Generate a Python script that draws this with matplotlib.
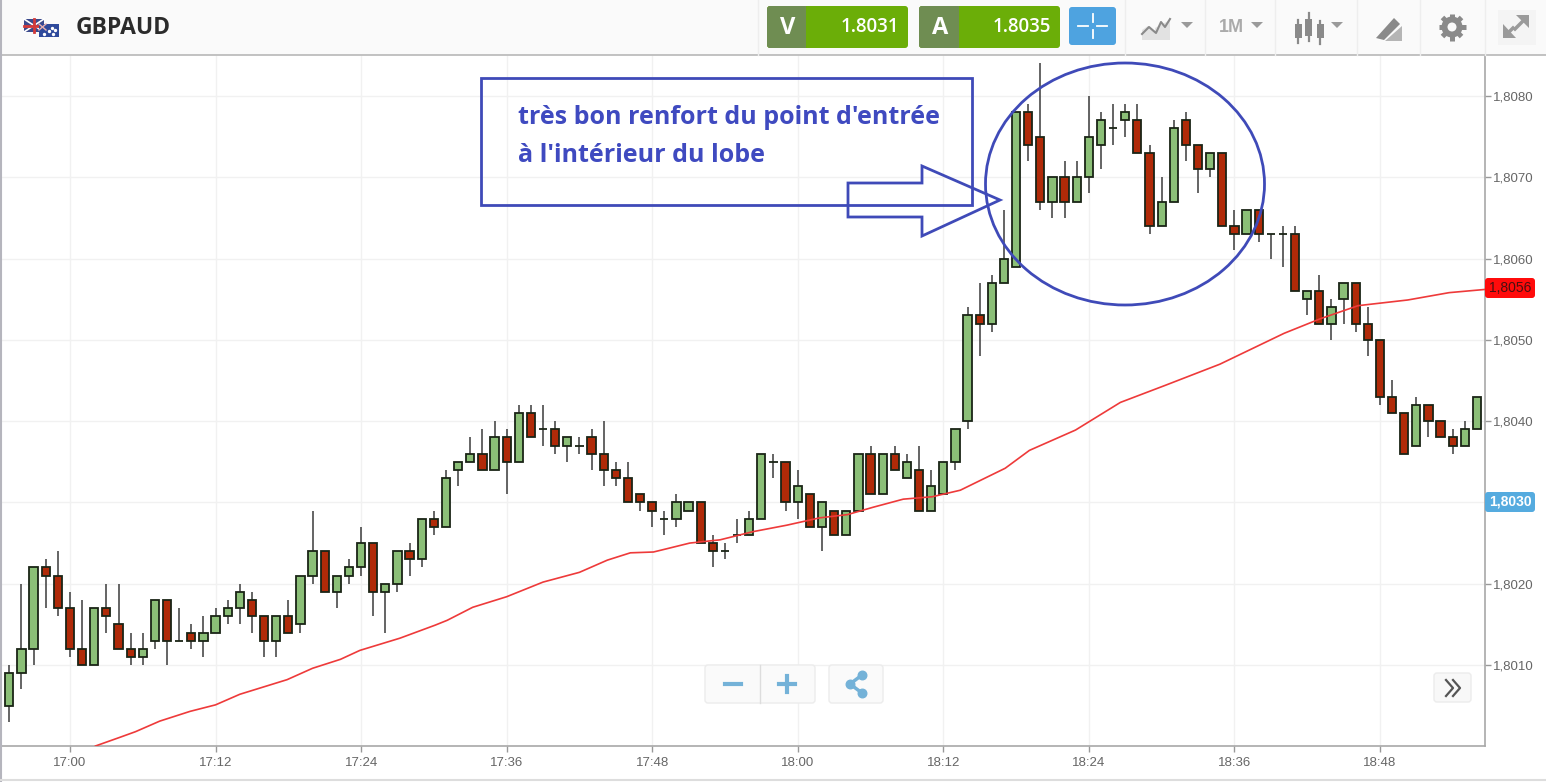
import matplotlib
matplotlib.use("Agg")
import numpy as np
import matplotlib.pyplot as plt
from matplotlib.patches import Rectangle, FancyBboxPatch, Ellipse, Polygon, Circle

# prices are pips above 1.8000
opens = [5, 9, 12, 22, 21, 17, 12, 10, 17, 15, 12, 11, 13, 18, 13, 14, 13, 14, 16, 17,
         18, 16, 13, 16, 15, 21, 24, 19, 21, 22, 25, 19, 20, 24, 23, 28, 27, 34, 35, 36,
         34, 38, 35, 41, 39, 39, 37, 37, 38, 36, 34, 33, 31, 30, 28, 28, 29, 30, 25, 24,
         26, 26, 28, 35, 35, 30, 31, 27, 29, 26, 29, 36, 31, 36, 33, 34, 29, 31, 35, 40,
         53, 52, 57, 59, 78, 75, 67, 70, 67, 70, 74, 76, 77, 77, 73, 64, 67, 77, 74, 71,
         73, 64, 63, 66, 63, 63, 63, 55, 56, 52, 55, 57, 52, 50, 43, 41, 37, 42, 40, 38,
         37, 39]
closes = [9, 12, 22, 21, 17, 12, 10, 17, 16, 12, 11, 12, 18, 13, 13, 13, 14, 16, 17, 19,
          16, 13, 16, 14, 21, 24, 19, 21, 22, 25, 19, 20, 24, 23, 28, 27, 33, 35, 36, 34,
          38, 35, 41, 38, 39, 37, 38, 37, 36, 34, 33, 30, 30, 29, 28, 30, 30, 25, 24, 24,
          26, 28, 36, 35, 30, 32, 27, 30, 26, 29, 36, 31, 36, 34, 35, 29, 32, 35, 39, 53,
          52, 57, 60, 78, 74, 67, 70, 67, 70, 75, 77, 76, 78, 73, 64, 67, 76, 74, 71, 73,
          64, 63, 66, 63, 63, 63, 56, 56, 52, 54, 57, 52, 50, 43, 41, 36, 42, 40, 38, 37,
          39, 43]
highs = [10, 20, 22, 23, 24, 19, 18, 17, 20, 20, 14, 14, 18, 18, 17, 15, 16, 17, 18, 20,
         19, 16, 16, 18, 21, 29, 24, 21, 23, 27, 25, 20, 24, 25, 28, 29, 34, 35, 38, 39,
         40, 39, 42, 42, 42, 40, 38, 38, 39, 40, 35, 35, 31, 30, 29, 31, 30, 30, 26, 25,
         28, 29, 36, 36, 35, 34, 31, 30, 29, 29, 36, 37, 36, 37, 36, 37, 34, 35, 39, 54,
         57, 58, 66, 78, 79, 84, 70, 72, 72, 80, 78, 79, 79, 79, 74, 70, 77, 78, 74, 73,
         73, 66, 66, 66, 63, 64, 64, 56, 58, 55, 57, 57, 54, 50, 45, 41, 43, 42, 40, 39,
         40, 43]
lows = [3, 7, 10, 17, 16, 11, 10, 10, 14, 12, 10, 10, 12, 10, 13, 12, 11, 14, 15, 15,
        14, 11, 11, 14, 14, 20, 19, 17, 20, 21, 16, 14, 19, 21, 22, 26, 27, 32, 35, 34,
        34, 31, 35, 38, 37, 36, 35, 36, 34, 32, 32, 30, 29, 27, 26, 27, 29, 25, 22, 23,
        25, 26, 28, 33, 29, 28, 27, 24, 26, 26, 29, 31, 31, 34, 33, 29, 29, 31, 34, 39,
        48, 51, 57, 59, 72, 66, 65, 65, 67, 68, 71, 74, 75, 73, 63, 64, 67, 72, 68, 70,
        64, 61, 63, 62, 60, 59, 56, 53, 52, 50, 52, 51, 48, 42, 41, 36, 37, 38, 38, 36,
        37, 39]
first_minute = -5  # 16:55

ma_minutes = [2.1, 4.1, 5.4, 7.4, 9.9, 12, 14, 17.9, 20, 22.3, 23.9, 27.2, 30.1, 31.1,
              33.2, 36, 39, 42, 44.3, 46.2, 48.1, 49.2, 51.1, 53.6, 56.3, 59.1, 61.8,
              64.1, 66.2, 68.7, 71.1, 73.4, 77.1, 79.1, 82.9, 86.6, 90.3, 94.8, 100.1,
              103.1, 106.2, 110.3, 113.7, 116.7]
ma_values = [0.04, 1.1, 1.8, 3.1, 4.3, 5.1, 6.4, 8.2, 9.6, 10.7, 11.8, 13.3, 14.9, 15.5,
             17.1, 18.4, 20.2, 21.4, 22.9, 23.8, 23.9, 24.3, 25, 25.4, 26.4, 27.2, 28.1,
             28.5, 29.4, 30.4, 30.7, 31.5, 34.2, 36.4, 38.9, 42.3, 44.4, 47, 50.8,
             52.6, 54.2, 54.9, 55.8, 56.2]

time_ticks = [0, 12, 24, 36, 48, 60, 72, 84, 96, 108]
time_labels = ["17:00", "17:12", "17:24", "17:36", "17:48", "18:00", "18:12", "18:24", "18:36", "18:48"]
price_ticks = [10, 20, 30, 40, 50, 60, 70, 80]
# 1,8030 sits under the blue price tag
price_labels = ["1,8010", "1,8020", "", "1,8040", "1,8050", "1,8060", "1,8070", "1,8080"]

W, H = 1546, 782
plt.rcParams["font.family"] = ["Liberation Sans", "DejaVu Sans"]
fig = plt.figure(figsize=(W / 100, H / 100), dpi=100, facecolor="white")

# -----------------------------
# Candles
# -----------------------------
ax = fig.add_axes([0, 1 - 746 / H, 1485 / W, (746 - 55) / H])
opens_a, closes_a = np.array(opens), np.array(closes)
highs_a, lows_a = np.array(highs), np.array(lows)
minutes = first_minute + np.arange(len(opens))
colors = ["#8bbf77" if c > o else "#b02a08" for o, c in zip(opens_a, closes_a)]

ax.vlines(minutes, lows_a, highs_a, color="#4a4a4a", linewidth=1.2, zorder=2)
ax.bar(minutes, np.abs(closes_a - opens_a), bottom=np.minimum(opens_a, closes_a), width=0.68,
       color=colors, edgecolor="#1a2416", linewidth=1.3, zorder=3)
ax.plot(ma_minutes, ma_values, color="#ee3a3a", linewidth=1.2, zorder=4)

ax.set_xlim(-5.77, 116.66)
ax.set_ylim(0.04, 85.03)
ax.yaxis.tick_right()
ax.set_xticks(time_ticks, time_labels)
ax.set_yticks(price_ticks, price_labels)
ax.tick_params(axis="both", length=4, width=1, color="#999999", labelcolor="#666666", labelsize=9.5)
ax.tick_params(axis="x", pad=4)
ax.tick_params(axis="y", pad=1.5)
ax.grid(True, color="#f1f1f1", linewidth=1)
ax.set_axisbelow(True)
for side in ["top", "left"]:
    ax.spines[side].set_visible(False)
for side in ["right", "bottom"]:
    ax.spines[side].set_color("#a8a8a8")
    ax.spines[side].set_linewidth(1.2)

# -----------------------------
# Platform toolbar and annotations (overlay in pixels)
# -----------------------------
ui = fig.add_axes([0, 0, 1, 1], facecolor="none")
ui.set_xlim(0, W)
ui.set_ylim(H, 0)
ui.axis("off")


def box(x0, y0, x1, y1, color, edge="none", r=3, z=5):
    ui.add_patch(FancyBboxPatch((x0 + r, y0 + r), x1 - x0 - 2 * r, y1 - y0 - 2 * r,
                                boxstyle=f"round,pad={r}", facecolor=color, edgecolor=edge,
                                linewidth=1, zorder=z))


ui.add_patch(Rectangle((0, 0), W, 55, facecolor="#fafafa", edgecolor="none", zorder=1))
ui.plot([0, W], [55, 55], color="#bdbdbd", linewidth=1.3, zorder=2)
ui.plot([1, 1], [0, 782], color="#b5b5bd", linewidth=1.5, zorder=2)
ui.plot([0, W], [780, 780], color="#dddddd", linewidth=1.5, zorder=2)
for sep in [758, 1125, 1205, 1275, 1357, 1420, 1485]:
    ui.plot([sep, sep], [0, 55], color="#eeeeee", linewidth=1, zorder=2)

# flags
ui.add_patch(Rectangle((24, 19), 20, 13, facecolor="#3b4a8c", zorder=3))
ui.plot([24, 44], [19, 32], color="white", linewidth=1.2, zorder=3)
ui.plot([24, 44], [32, 19], color="white", linewidth=1.2, zorder=3)
ui.plot([24, 44], [25.5, 25.5], color="#d23a3a", linewidth=2, zorder=3)
ui.plot([34, 34], [19, 32], color="#d23a3a", linewidth=2, zorder=3)
ui.add_patch(Rectangle((39, 24), 20, 13, facecolor="#2f4a9c", zorder=4))
ui.scatter([52, 55, 49, 53, 44], [28, 30, 31, 34, 34], s=2, color="white", zorder=5)
ui.plot([39, 46], [24, 30], color="#e8b0b0", linewidth=1, zorder=5)
ui.plot([39, 46], [30, 24], color="#e8b0b0", linewidth=1, zorder=5)
ui.text(76, 27.5, "GBPAUD", family="Open Sans", fontweight="bold", fontsize=16.5,
        color="#2b2b2b", va="center", zorder=5)

# bid / ask
for x0, x1, x2, letter, price in [(767, 806, 908, "V", "1.8031"), (919, 959, 1060, "A", "1.8035")]:
    box(x0, 6, x2, 48, "#6bae08")
    box(x0, 6, x1, 48, "#6f8d52", z=6)
    ui.add_patch(Rectangle((x1 - 4, 6), 4, 42, facecolor="#6f8d52", zorder=6))
    ui.text((x0 + x1) / 2 + 1, 27.5, letter, family="Open Sans", fontweight="bold", fontsize=17,
            color="white", ha="center", va="center", zorder=7)
    ui.text(x2 - 9, 27, price, family="Open Sans", fontsize=13.5, fontweight="semibold",
            color="white", ha="right", va="center", zorder=7)

# crosshair button
box(1069, 7, 1116, 45, "#4ea3e0")
for xs, ys in [([1078, 1088], [26, 26]), ([1097, 1107], [26, 26]),
               ([1092.5, 1092.5], [14, 22]), ([1092.5, 1092.5], [30, 38])]:
    ui.plot(xs, ys, color="white", linewidth=1.3, zorder=7)

grey = "#9a9a9a"
# chart type icon
ui.add_patch(Polygon([(1142, 40), (1142, 30), (1148, 26), (1155, 31), (1155, 28), (1170, 20), (1170, 40)],
                     facecolor="#e2e2e2", edgecolor="none", zorder=5))
ui.plot([1142, 1149, 1156, 1161, 1165, 1170], [34, 27, 33, 22, 27, 19], color="#8a8a8a", linewidth=1.5, zorder=6)
ui.text(1219, 27, "1M", fontsize=13, fontweight="bold", color="#aaaaaa", va="center", zorder=6)
# candle icon
for cx, y0, y1, b0, b1 in [(1298, 20, 43, 24, 38), (1308.5, 13, 41, 19, 36), (1320, 21, 44, 24, 38)]:
    ui.plot([cx, cx], [y0, y1], color="#8a8a8a", linewidth=1.6, zorder=6)
    ui.add_patch(Rectangle((cx - 3.5, b0), 7, b1 - b0, facecolor="#8a8a8a", zorder=6))
for tx, ty in [(1187, 22), (1257, 22), (1337, 22)]:
    ui.add_patch(Polygon([(tx - 6, ty), (tx + 6, ty), (tx, ty + 6)], facecolor=grey, zorder=6))
# pencil icon
ui.add_patch(Polygon([(1376, 38), (1394, 18), (1400, 24), (1384, 40)], facecolor="#8a8a8a", zorder=6))
ui.add_patch(Polygon([(1385, 41), (1402, 26), (1402, 41)], facecolor="#b5b5b5", zorder=5))
# gear icon
ui.add_patch(Circle((1452, 27), 10.5, facecolor="#8a8a8a", zorder=6))
ui.add_patch(Circle((1452, 27), 4.5, facecolor="#fafafa", zorder=7))
for angle in np.deg2rad([0, 45, 90, 135]):
    dx, dy = 13.5 * np.cos(angle), 13.5 * np.sin(angle)
    ui.plot([1452 - dx, 1452 + dx], [27 - dy, 27 + dy], color="#8a8a8a", linewidth=3.6,
            solid_capstyle="butt", zorder=5)
# expand icon
ui.add_patch(Rectangle((1498, 10), 38, 35, facecolor="#f4f4f4", zorder=3))
ui.add_patch(Polygon([(1516, 15), (1529, 15), (1529, 28)], facecolor=grey, zorder=6))
ui.add_patch(Polygon([(1503, 24), (1503, 38), (1516, 38)], facecolor=grey, zorder=6))
ui.plot([1524, 1515], [20, 29], color=grey, linewidth=2.5, zorder=6)
ui.plot([1508, 1513], [33, 28], color=grey, linewidth=2.5, zorder=6)

# price tags
box(1485, 278, 1535, 298, "#ff0b0b")
ui.text(1510, 288, "1,8056", fontsize=10, color="#4a1010", ha="center", va="center", zorder=7)
box(1485, 492, 1535, 512, "#55abdf")
ui.text(1510, 502, "1,8030", fontsize=10, fontweight="bold", color="white", ha="center", va="center", zorder=7)

# zoom buttons
box(705, 665, 815, 703, "#fafafa", edge="#ececec")
ui.plot([760, 760], [665, 703], color="#dddddd", linewidth=1, zorder=6)
ui.plot([725, 741], [684, 684], color="#74b2d8", linewidth=3, zorder=6)
ui.plot([779, 795], [684, 684], color="#74b2d8", linewidth=3, zorder=6)
ui.plot([787, 787], [676, 692], color="#74b2d8", linewidth=3, zorder=6)
box(829, 665, 883, 703, "#fafafa", edge="#ececec")
ui.plot([862, 850, 862], [675, 684, 693], color="#74b2d8", linewidth=2.5, zorder=6)
ui.scatter([862, 850, 862], [675, 684, 693], s=38, color="#74b2d8", zorder=6)
box(1434, 673, 1471, 702, "#f8f8f8", edge="#ececec")
ui.plot([1446, 1453, 1446], [680, 688, 696], color="#555555", linewidth=1.6, zorder=6)
ui.plot([1453, 1460, 1453], [680, 688, 696], color="#555555", linewidth=1.6, zorder=6)

# blue annotations
blue = "#3f4ab8"
ui.add_patch(Rectangle((481, 78), 491, 127, fill=False, edgecolor=blue, linewidth=2, zorder=8))
ui.add_patch(Polygon([(848, 183), (922, 183), (922, 166), (1000, 200), (922, 236), (922, 217), (848, 217)],
                     fill=False, edgecolor=blue, linewidth=2, zorder=8))
ui.add_patch(Ellipse((1125, 184), 279, 242, fill=False, edgecolor=blue, linewidth=2, zorder=8))
ui.text(518, 118, "très bon renfort du point d'entrée", family="Open Sans", fontweight="bold",
        fontsize=18, color="#3f4ac0", va="center", zorder=8)
ui.text(518, 155, "à l'intérieur du lobe", family="Open Sans", fontweight="bold",
        fontsize=18, color="#3f4ac0", va="center", zorder=8)

fig.savefig("out.png", dpi=100)
